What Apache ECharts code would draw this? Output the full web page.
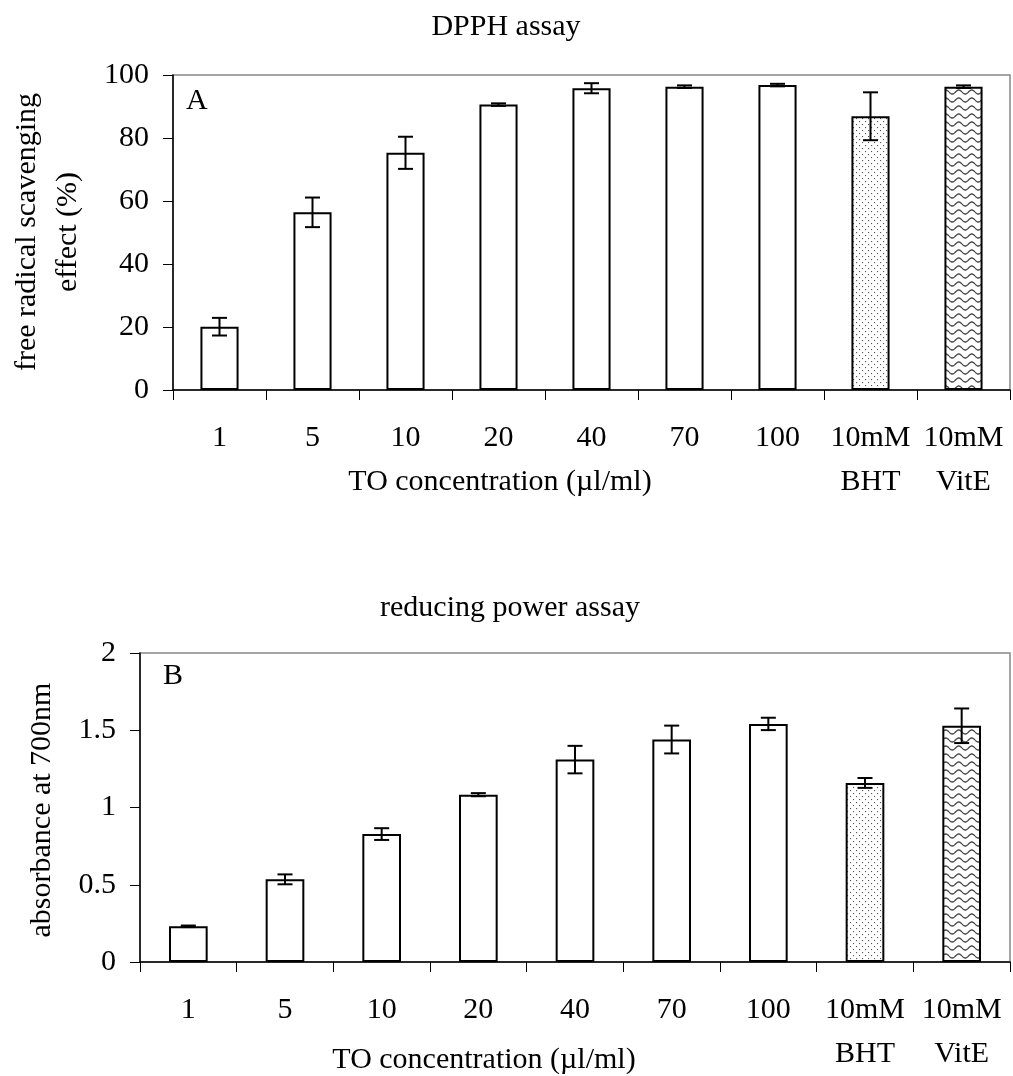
<!DOCTYPE html>
<html>
<head>
<meta charset="utf-8">
<script src="https://cdn.jsdelivr.net/npm/echarts@6/dist/echarts.min.js"></script>
<style>
html,body{margin:0;padding:0;background:#fff;}
#chart{width:1013px;height:1076px;}
</style>
</head>
<body>
<div id="chart"></div>
<script>
// ---- data ----
const categories = ['1', '5', '10', '20', '40', '70', '100', '10mM\nBHT', '10mM\nVitE'];
const dpphMean = [20.1, 56.4, 75.3, 90.6, 95.8, 96.3, 96.8, 86.9, 96.3];
const dpphErr  = [2.8, 4.7, 5.1, 0.4, 1.6, 0.4, 0.4, 7.6, 0.4];
const rpMean   = [0.231, 0.535, 0.828, 1.083, 1.31, 1.44, 1.541, 1.159, 1.529];
const rpErr    = [0.005, 0.032, 0.038, 0.01, 0.089, 0.09, 0.04, 0.032, 0.112];
const dpphTicks = { min: 0, max: 100, interval: 20 };
const rpTicks   = { min: 0, max: 2, interval: 0.5 };
const fillKind  = ['plain', 'plain', 'plain', 'plain', 'plain', 'plain', 'plain', 'dots', 'wave'];

// ---- patterns ----
function dotPattern() {
  const c = document.createElement('canvas');
  c.width = 6; c.height = 6;
  const g = c.getContext('2d');
  g.fillStyle = '#fff'; g.fillRect(0, 0, 6, 6);
  g.fillStyle = '#555';
  g.fillRect(1, 1, 1.1, 1.1);
  g.fillRect(4, 4, 1.1, 1.1);
  return c;
}
function wavePattern() {
  const c = document.createElement('canvas');
  c.width = 13; c.height = 8;
  const g = c.getContext('2d');
  g.fillStyle = '#fff'; g.fillRect(0, 0, 13, 8);
  g.strokeStyle = '#444'; g.lineWidth = 1.3;
  g.beginPath();
  for (let x = 0; x <= 13; x += 0.5) {
    const y = 4 + 2.0 * Math.sin(x / 13 * Math.PI * 2);
    if (x === 0) g.moveTo(x, y); else g.lineTo(x, y);
  }
  g.stroke();
  return c;
}
const patterns = {
  plain: '#fff',
  dots: { image: dotPattern(), repeat: 'repeat' },
  wave: { image: wavePattern(), repeat: 'repeat' }
};

const FONT = 'Liberation Serif';
const FS = 30;

function barData(means) {
  return means.map((v, i) => ({
    value: v,
    itemStyle: { color: patterns[fillKind[i]] }
  }));
}
function errData(means, errs) {
  return means.map((v, i) => [i, v - errs[i], v + errs[i]]);
}
function errRender(params, api) {
  const i = api.value(0);
  const lo = api.coord([i, api.value(1)]);
  const hi = api.coord([i, api.value(2)]);
  const hw = 7.5;
  const st = { stroke: '#000', lineWidth: 2 };
  return {
    type: 'group',
    children: [
      { type: 'line', shape: { x1: hi[0], y1: hi[1], x2: lo[0], y2: lo[1] }, style: st },
      { type: 'line', shape: { x1: hi[0] - hw, y1: hi[1], x2: hi[0] + hw, y2: hi[1] }, style: st },
      { type: 'line', shape: { x1: lo[0] - hw, y1: lo[1], x2: lo[0] + hw, y2: lo[1] }, style: st }
    ]
  };
}

function xAxisCfg(gridIndex) {
  return {
    type: 'category', gridIndex: gridIndex, data: categories,
    boundaryGap: true,
    axisLine: { show: true, lineStyle: { color: '#000', width: 1.5 } },
    axisTick: { show: true, interval: 0, length: 10, lineStyle: { color: '#000', width: 1 } },
    axisLabel: { interval: 0, color: '#000', fontFamily: FONT, fontSize: FS, lineHeight: 44, margin: 26 },
    splitLine: { show: false }
  };
}
function yAxisCfg(gridIndex, t, fmt) {
  return {
    type: 'value', gridIndex: gridIndex, min: t.min, max: t.max, interval: t.interval,
    axisLine: { show: true, lineStyle: { color: '#000', width: 1.5 } },
    axisTick: { show: true, length: 10, lineStyle: { color: '#000', width: 1 } },
    axisLabel: { color: '#000', fontFamily: FONT, fontSize: FS, margin: 24, formatter: fmt },
    splitLine: { show: false }
  };
}

const txt = (text, x, y, opts) => Object.assign({
  type: 'text', x: x, y: y,
  style: Object.assign({ text: text, fill: '#000', font: FS + 'px "' + FONT + '"', align: 'center', verticalAlign: 'middle' }, opts || {})
});

const chart = echarts.init(document.getElementById('chart'), null, { renderer: 'canvas' });
chart.setOption({
  backgroundColor: '#fff',
  animation: false,
  grid: [
    { left: 173, right: 3, top: 75, height: 315, show: true, borderColor: '#888', borderWidth: 1.5, backgroundColor: 'transparent' },
    { left: 140, right: 3, top: 653, height: 314, show: true, borderColor: '#888', borderWidth: 1.5, backgroundColor: 'transparent' }
  ],
  xAxis: [xAxisCfg(0), xAxisCfg(1)],
  yAxis: [
    yAxisCfg(0, dpphTicks, v => String(v)),
    yAxisCfg(1, rpTicks, v => String(v))
  ],
  series: [
    { type: 'bar', xAxisIndex: 0, yAxisIndex: 0, barWidth: '41%', data: barData(dpphMean),
      itemStyle: { borderColor: '#000', borderWidth: 2 } },
    { type: 'custom', xAxisIndex: 0, yAxisIndex: 0, renderItem: errRender, data: errData(dpphMean, dpphErr),
      encode: { x: 0, y: [1, 2] }, z: 5 },
    { type: 'bar', xAxisIndex: 1, yAxisIndex: 1, barWidth: '40%', data: barData(rpMean),
      itemStyle: { borderColor: '#000', borderWidth: 2 } },
    { type: 'custom', xAxisIndex: 1, yAxisIndex: 1, renderItem: errRender, data: errData(rpMean, rpErr),
      encode: { x: 0, y: [1, 2] }, z: 5 }
  ],
  graphic: [
    txt('DPPH assay', 506, 27),
    txt('reducing power assay', 510, 608),
    txt('A', 186, 101, { align: 'left' }),
    txt('B', 163, 676, { align: 'left' }),
    txt('TO concentration (\u00b5l/ml)', 500, 482),
    txt('TO concentration (\u00b5l/ml)', 484, 1060),
    Object.assign(txt('free radical scavenging\neffect (%)', 48, 232, { lineHeight: 41 }), { rotation: Math.PI / 2 }),
    Object.assign(txt('absorbance at 700nm', 42, 810), { rotation: Math.PI / 2 })
  ]
});
</script>
</body>
</html>
